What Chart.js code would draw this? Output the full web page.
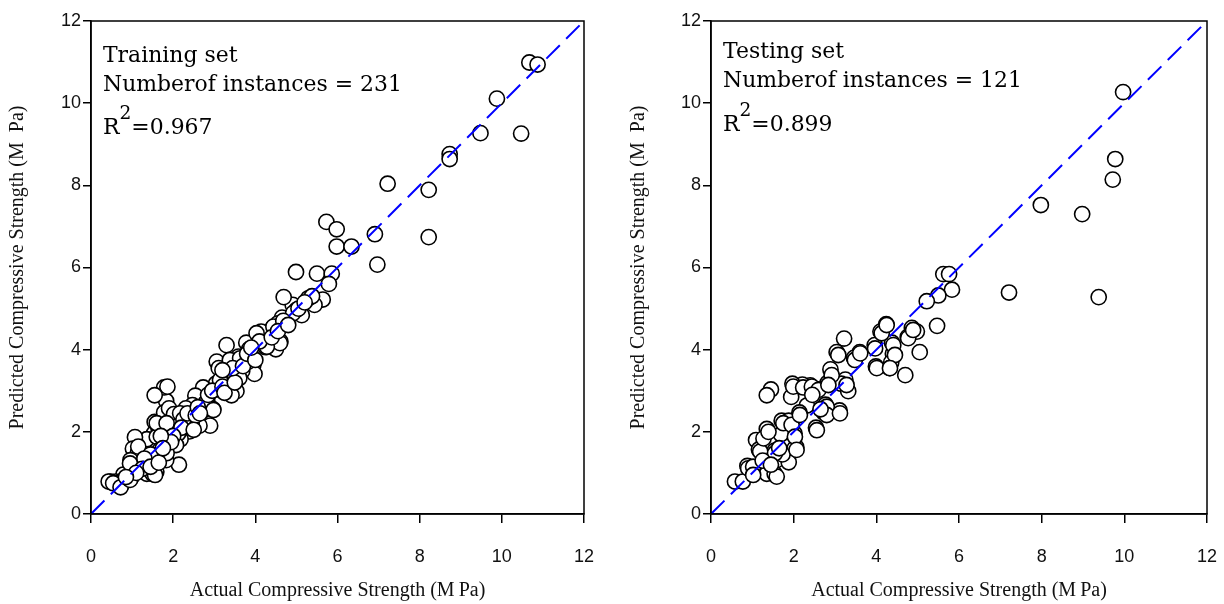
<!DOCTYPE html>
<html>
<head>
<meta charset="utf-8">
<script src="https://cdn.jsdelivr.net/npm/chart.js@4.4.1/dist/chart.umd.min.js"></script>
<style>
  html, body { margin: 0; padding: 0; background: #fff; }
  .panel { position: absolute; top: 0; width: 612px; height: 604px; }
</style>
</head>
<body>
<div class="panel" style="left:0"><canvas id="trainChart" width="612" height="604"></canvas></div>
<div class="panel" style="left:612px"><canvas id="testChart" width="612" height="604"></canvas></div>
<script>
// training set: actual vs predicted strength (MPa)
const trainActual = [
  10.67, 10.87, 9.88, 10.47, 9.48, 8.73, 8.73, 7.22, 8.22, 8.22,
  6.91, 6.97, 5.73, 5.98, 5.98, 6.34, 4.99, 5.50, 5.86, 5.79,
  5.64, 5.44, 5.29, 5.38, 5.13, 4.91, 5.00, 4.69, 4.77, 4.65,
  4.55, 4.42, 4.61, 4.50, 4.25, 4.33, 4.14, 4.44, 4.60, 4.92,
  4.68, 3.78, 3.85, 3.30, 3.06, 3.11, 3.40, 3.59, 3.90, 3.95,
  3.98, 3.68, 3.61, 3.33, 3.16, 3.04, 3.11, 3.54, 3.42, 3.38,
  3.63, 3.83, 4.03, 4.28, 3.14, 2.73, 2.54, 2.83, 2.47, 2.31,
  2.73, 2.97, 2.90, 2.64, 2.45, 2.33, 2.40, 2.18, 2.12, 2.07,
  2.14, 1.88, 1.85, 1.83, 1.78, 1.86, 1.55, 1.55, 1.53, 1.64,
  1.78, 1.90, 2.02, 2.17, 2.09, 2.78, 2.98, 1.69, 1.59, 1.76,
  1.83, 1.69, 1.40, 1.36, 1.12, 1.07, 1.02, 1.14, 1.39, 1.17,
  0.96, 1.36, 1.50, 1.59, 0.98, 0.79, 0.74, 0.60, 0.47, 0.43,
  0.65, 0.54, 0.72, 0.95, 0.95, 1.15, 1.60, 1.60, 1.84, 1.84,
  1.68, 1.56, 2.25, 2.35, 2.55, 2.60, 2.20, 2.00, 1.95, 1.70,
  1.45, 1.30, 1.25, 1.10, 0.85, 1.45, 1.65, 1.75, 2.50, 2.65,
  2.85, 2.95, 3.20, 3.25, 3.50, 3.45, 3.70, 3.80, 4.00, 4.10,
  4.40, 4.55, 4.80, 5.05, 5.20, 3.90, 3.20
];
const trainPredicted = [
  10.99, 10.94, 10.11, 9.26, 9.27, 8.76, 8.64, 8.04, 7.89, 6.74,
  6.81, 6.07, 7.11, 6.93, 6.51, 6.51, 5.89, 5.85, 5.85, 5.60,
  5.22, 5.09, 5.25, 5.30, 4.84, 5.09, 4.97, 5.28, 4.74, 4.78,
  4.64, 4.53, 4.20, 4.01, 4.06, 4.31, 4.44, 4.56, 4.16, 4.89,
  4.70, 4.17, 4.01, 4.11, 3.71, 3.55, 3.69, 3.83, 3.80, 3.62,
  3.41, 3.48, 3.31, 3.31, 3.27, 3.17, 3.03, 2.99, 2.89, 3.75,
  3.79, 3.71, 4.40, 4.07, 3.26, 3.08, 2.88, 2.75, 2.65, 2.57,
  2.52, 2.55, 2.15, 2.15, 2.19, 2.22, 2.01, 1.82, 1.96, 1.68,
  1.20, 2.01, 2.29, 2.75, 3.08, 3.10, 2.89, 2.24, 1.96, 2.10,
  2.47, 2.57, 2.43, 2.45, 2.13, 2.69, 2.53, 1.68, 1.54, 1.45,
  1.31, 1.40, 1.63, 1.82, 1.68, 1.87, 1.59, 1.49, 1.26, 1.17,
  1.31, 0.98, 0.98, 1.03, 0.89, 0.96, 0.70, 0.79, 0.79, 0.79,
  0.75, 0.75, 0.65, 0.83, 1.23, 1.64, 1.88, 2.21, 2.21, 1.48,
  1.56, 0.95, 2.30, 2.45, 2.40, 2.60, 2.10, 1.90, 1.75, 1.90,
  1.45, 1.35, 1.10, 1.00, 0.90, 1.15, 1.25, 1.60, 2.05, 2.45,
  2.90, 3.00, 3.10, 2.95, 3.20, 3.55, 3.60, 3.90, 3.75, 4.20,
  4.30, 4.45, 4.60, 5.00, 5.15, 4.05, 3.50
];

// testing set
const testActual = [
  9.97, 9.78, 9.72, 7.98, 8.98, 7.21, 9.38, 5.62, 5.76, 5.83,
  5.50, 5.22, 5.47, 4.24, 4.10, 4.86, 4.98, 4.76, 4.38, 3.96,
  5.05, 4.40, 4.36, 4.32, 3.99, 4.70, 3.60, 3.46, 3.22, 3.04,
  2.89, 3.25, 3.15, 3.32, 2.82, 2.59, 2.40, 2.21, 1.97, 1.94,
  2.32, 2.77, 2.73, 3.11, 2.54, 2.14, 1.45, 1.35, 1.71, 1.88,
  2.02, 2.06, 2.02, 1.69, 1.35, 1.09, 1.16, 1.54, 1.59, 1.88,
  1.35, 0.88, 0.96, 1.35, 1.54, 0.58, 0.77, 1.73, 0.90, 1.02,
  1.02, 1.59, 1.19, 1.27, 1.39, 1.55, 1.75, 1.95, 2.03, 2.07,
  1.99, 2.23, 2.44, 2.60, 2.15, 2.56, 2.80, 2.80, 3.12, 2.92,
  2.84, 3.28, 3.08, 3.48, 3.61, 3.97, 4.01, 4.13, 4.25, 4.41,
  4.45, 4.33, 4.77, 4.89, 1.25, 1.45, 1.65, 2.45, 2.65
];
const testPredicted = [
  10.27, 8.64, 8.14, 7.52, 7.30, 5.39, 5.28, 5.84, 5.84, 5.46,
  5.32, 5.18, 4.58, 4.62, 4.44, 4.53, 4.44, 4.31, 4.17, 4.11,
  3.94, 3.90, 3.69, 3.55, 3.59, 3.38, 3.94, 3.80, 4.27, 3.94,
  3.52, 3.27, 3.17, 2.99, 3.19, 3.03, 3.13, 3.15, 3.17, 2.85,
  2.64, 2.66, 2.47, 2.52, 2.10, 2.47, 3.03, 2.89, 2.27, 2.27,
  1.96, 1.63, 1.59, 1.94, 2.07, 1.80, 1.57, 1.54, 1.31, 1.26,
  1.35, 1.17, 0.98, 0.98, 0.98, 0.79, 0.79, 1.45, 1.11, 1.15,
  0.95, 0.91, 1.52, 1.84, 2.00, 1.48, 2.21, 2.17, 1.88, 1.56,
  3.10, 3.08, 3.10, 3.02, 2.41, 2.04, 2.61, 2.41, 2.45, 3.38,
  3.14, 3.14, 3.87, 3.75, 3.91, 4.03, 3.55, 4.40, 4.60, 4.11,
  3.87, 3.55, 4.28, 4.48, 1.30, 1.20, 1.60, 2.90, 2.55
];

// 1:1 reference line
const lineX = [0, 12];
const lineY = [0, 12];

const axisTicks = [0, 2, 4, 6, 8, 10, 12];

const trainNotes = ['Training set', 'Numberof instances = 231', '=0.967'];
const testNotes = ['Testing set', 'Numberof instances = 121', '=0.899'];

function toPoints(xs, ys) {
  return xs.map((x, i) => ({ x: x, y: ys[i] }));
}

// frame + text box in the upper left corner
const boxPlugin = {
  id: 'frameNotes',
  afterDatasetsDraw(chart, args, opts) {
    const { ctx, chartArea: a } = chart;
    ctx.save();
    ctx.strokeStyle = '#000';
    ctx.lineWidth = 1.5;
    ctx.strokeRect(a.left, a.top, a.right - a.left, a.bottom - a.top);

    const lines = opts.lines;
    const face = '"DejaVu Serif", "Liberation Serif", serif';
    ctx.font = '100px ' + face;
    let size = 100 * 299 / ctx.measureText(lines[1]).width;
    size = Math.max(18, Math.min(26, size));
    ctx.font = size + 'px ' + face;
    ctx.fillStyle = '#000';
    ctx.textBaseline = 'alphabetic';
    ctx.textAlign = 'left';
    const x = a.left + opts.dx;
    const b = opts.baselines;
    ctx.fillText(lines[0], x, a.top + b[0]);
    ctx.fillText(lines[1], x, a.top + b[1]);
    // R with superscript 2
    ctx.fillText('R', x, a.top + b[2]);
    let cx = x + ctx.measureText('R').width;
    ctx.font = (size * 0.85) + 'px ' + face;
    ctx.fillText('2', cx, a.top + b[2] - 15);
    cx += ctx.measureText('2').width;
    ctx.font = size + 'px ' + face;
    ctx.fillText(lines[2], cx, a.top + b[2]);
    ctx.restore();
  }
};

function makePanel(id, xs, ys, notes, cfg) {
  const tickFont = { family: '"Liberation Sans", Arial, sans-serif', size: 18 };
  const titleFont = { family: '"Liberation Serif", "Times New Roman", serif', size: 20 };
  return new Chart(document.getElementById(id), {
    type: 'scatter',
    data: {
      datasets: [
        {
          type: 'line',
          data: toPoints(lineX, lineY),
          borderColor: '#0000ff',
          borderWidth: 2,
          borderDash: [19, 9],
          pointRadius: 0,
          fill: false,
          order: 0
        },
        {
          data: toPoints(xs, ys),
          backgroundColor: '#fff',
          borderColor: '#000',
          borderWidth: 1.6,
          pointRadius: 7.6,
          order: 1
        }
      ]
    },
    options: {
      responsive: false,
      animation: false,
      devicePixelRatio: 1,
      layout: { autoPadding: false, padding: { top: 21, right: cfg.right, left: 0, bottom: 0 } },
      plugins: {
        legend: { display: false },
        tooltip: { enabled: false },
        frameNotes: { lines: notes, dx: cfg.textDx, baselines: cfg.baselines }
      },
      scales: {
        x: {
          type: 'linear',
          min: 0, max: 12,
          afterBuildTicks: s => { s.ticks = axisTicks.map(v => ({ value: v })); },
          afterFit: s => { s.height = 90; s.paddingLeft = 0; s.paddingRight = 0; },
          grid: { drawOnChartArea: false, drawTicks: true, tickLength: 9, color: '#000', lineWidth: 1.5 },
          border: { display: true, color: '#000', width: 1.5 },
          ticks: { color: '#111', font: tickFont, padding: 23, maxRotation: 0 },
          title: {
            display: true,
            text: 'Actual Compressive Strength (M\u2009Pa)',
            color: '#111',
            font: titleFont,
            padding: { top: 0, bottom: 1 }
          }
        },
        y: {
          type: 'linear',
          min: 0, max: 12,
          afterBuildTicks: s => { s.ticks = axisTicks.map(v => ({ value: v })); },
          afterFit: s => { s.width = cfg.left; },
          grid: { drawOnChartArea: false, drawTicks: true, tickLength: 8, color: '#000', lineWidth: 1.5 },
          border: { display: true, color: '#000', width: 1.5 },
          ticks: { color: '#111', font: tickFont, padding: 2 },
          title: {
            display: true,
            text: 'Predicted Compressive Strength (M  Pa)',
            color: '#111',
            font: titleFont,
            padding: { top: cfg.titlePad, bottom: 0 }
          }
        }
      }
    },
    plugins: [boxPlugin]
  });
}

makePanel('trainChart', trainActual, trainPredicted, trainNotes,
  { left: 91, right: 28, titlePad: 6, textDx: 12, baselines: [41, 70, 113] });
makePanel('testChart', testActual, testPredicted, testNotes,
  { left: 99, right: 17, titlePad: 15, textDx: 12, baselines: [37, 66, 110] });
</script>
</body>
</html>
